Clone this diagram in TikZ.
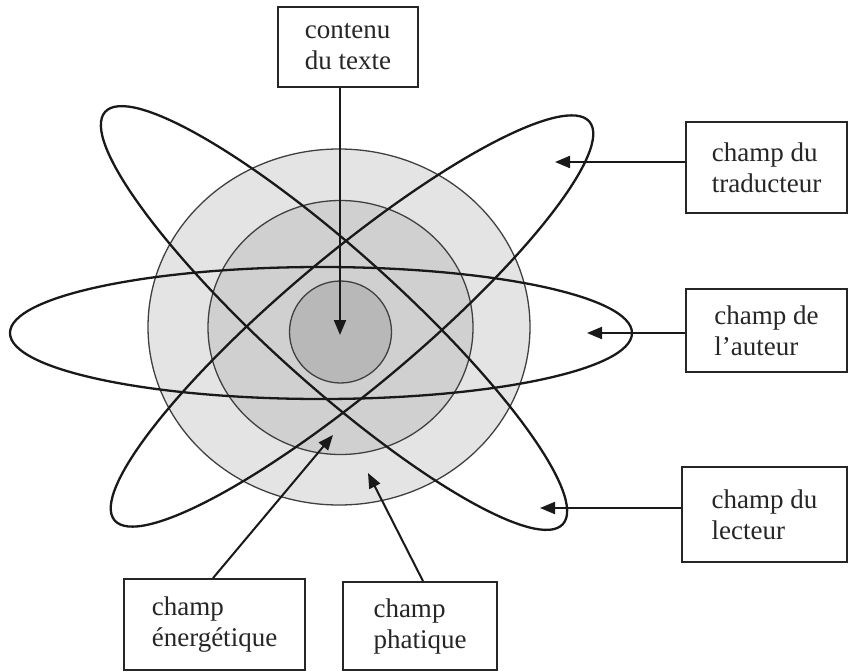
\documentclass[tikz,border=0pt]{standalone}
\usepackage{fontspec}
\setmainfont{Liberation Serif}
\usetikzlibrary{arrows.meta}
\definecolor{gOuter}{RGB}{228,228,228}
\definecolor{gMiddle}{RGB}{208,208,208}
\definecolor{gInner}{RGB}{184,184,184}
\begin{document}
\begin{tikzpicture}[x=1pt,y=-1pt,
  orbit/.style={line width=2.3pt, draw=black!90},
  ring/.style={line width=1.3pt, draw=black!75},
  lbl/.style={draw=black!85, line width=1.8pt, fill=white, align=left,
    font=\fontsize{27}{31}\selectfont, text=black!85, inner sep=0pt},
  pointer/.style={line width=2pt, draw=black!90,
    -{Triangle[length=15pt,width=12pt]}}
]
\useasboundingbox (0,0) rectangle (849,672);
\fill[white] (0,0) rectangle (849,672);

% concentric fields
\draw[ring, fill=gOuter]  (339,327) ellipse [x radius=191pt, y radius=178pt];
\draw[ring, fill=gMiddle] (340.5,327.5) ellipse [x radius=132.5pt, y radius=127pt];
\draw[ring, fill=gInner]  (340.5,332) circle [radius=51pt];

% orbits
\draw[orbit] (321,333) ellipse [x radius=311pt, y radius=66pt];
\draw[orbit, rotate around={-42:(334,318)}] (334,318) ellipse [x radius=308pt, y radius=66pt];
\draw[orbit, rotate around={40:(352,321)}] (352,321) ellipse [x radius=310pt, y radius=66pt];

% label boxes
\node[lbl, minimum width=140pt, minimum height=80pt] (cont) at (348,47) {contenu\\du texte};
\node[lbl, minimum width=161pt, minimum height=91pt] (trad) at (766.5,167.5) {champ du\\traducteur};
\node[lbl, minimum width=161pt, minimum height=83pt] (aut) at (766.5,330.5) {champ de\\l’auteur};
\node[lbl, minimum width=165pt, minimum height=95pt] (lect) at (764.5,514.5) {champ du\\lecteur};
\node[lbl, minimum width=181pt, minimum height=91pt] (ener) at (214.5,624.5) {champ\\énergétique};
\node[lbl, minimum width=154pt, minimum height=88pt] (phat) at (420,626) {champ\\phatique};

% arrow targets
\coordinate (tCont) at (340,335);
\coordinate (tTrad) at (555,162);
\coordinate (tAut) at (587,333);
\coordinate (tLect) at (540,508);
\coordinate (tEner) at (333,435);
\coordinate (tPhat) at (368,473);

% connectors
\draw[pointer] (tCont |- cont.south) -- (tCont);
\draw[pointer] (tTrad -| trad.west) -- (tTrad);
\draw[pointer] (tAut -| aut.west) -- (tAut);
\draw[pointer] (tLect -| lect.west) -- (tLect);
\draw[pointer] ([xshift=-1.5pt]ener.north) -- (tEner);
\draw[pointer] ([xshift=3pt]phat.north) -- (tPhat);
\end{tikzpicture}
\end{document}
